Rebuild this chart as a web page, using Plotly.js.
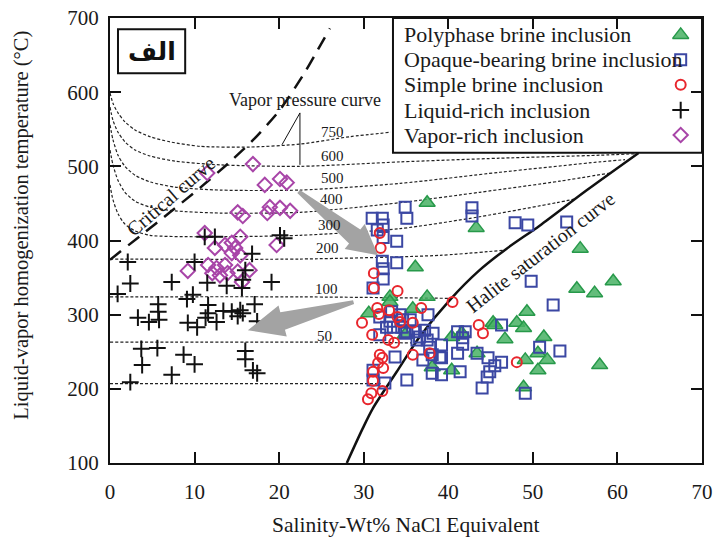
<!DOCTYPE html>
<html>
<head>
<meta charset="utf-8">
<script src="https://cdn.plot.ly/plotly-3.0.1.min.js"></script>
<style>
  html, body { margin: 0; padding: 0; background: #ffffff; }
  #chart { width: 716px; height: 542px; }
</style>
</head>
<body>
<div id="chart"></div>
<script>
// ---- Fluid inclusion measurements: salinity (wt% NaCl eq.) and Th (°C) ----
const polyphaseSal = [37.5, 43.3, 36.1, 33.1, 37.5, 30.6, 33.1, 35.8, 40.4, 41.6, 45.3, 43.4, 38.1, 40.4, 34.9,
  55.6, 55.2, 57.3, 59.5, 49.3, 48.1, 48.9, 45.5, 46.7, 51.3, 49.1, 50.6, 51.7, 50.6, 48.9, 57.9];
const polyphaseTh = [451, 417, 364, 324, 324, 302, 317, 308, 270, 275, 289, 248, 229, 225, 273,
  389, 335, 329, 345, 304, 289, 282, 286, 267, 270, 239, 248, 239, 225, 202, 232];

const opaqueSal = [34.9, 35.1, 31.0, 32.2, 32.3, 32.3, 31.6, 33.9, 32.2, 32.3, 33.9, 32.3, 31.1, 42.8, 42.8,
  47.9, 49.4, 54.0, 49.8, 52.4, 31.9, 33.3, 34.3, 34.6, 35.5, 33.5, 34.5, 32.7, 34.9, 36.1,
  37.2, 37.6, 37.5, 36.3, 37.8, 31.9, 33.7, 38.1, 39.0, 37.0, 38.1, 39.2, 35.1, 32.5, 41.4,
  41.1, 41.7, 41.7, 42.0, 43.4, 44.7, 46.3, 45.5, 44.9, 44.6, 44.0, 46.3, 50.8, 53.2, 49.1,
  39.2, 39.2, 31.1, 31.1, 33.1, 35.1, 36.6, 38.2, 41.1];
const opaqueTh = [445, 430, 430, 430, 421, 404, 414, 399, 372, 362, 370, 348, 336, 444, 433,
  424, 421, 425, 345, 313, 297, 304, 300, 293, 293, 283, 283, 283, 275, 277,
  279, 300, 266, 266, 256, 273, 243, 246, 243, 239, 221, 219, 212, 208, 223,
  248, 269, 260, 277, 248, 242, 236, 231, 223, 216, 201, 286, 256, 251, 194,
  259, 242, 225, 212, 291, 277, 270, 275, 277];

const simpleSal = [31.9, 32.0, 31.2, 31.2, 34.0, 31.6, 31.8, 33.0, 34.0, 34.3, 36.8, 29.8, 35.8, 31.0, 32.9,
  33.6, 35.8, 37.8, 31.9, 32.2, 31.7, 32.3, 31.1, 31.1, 30.9, 30.5, 32.2, 40.5, 43.6, 44.1, 48.1];
const simpleTh = [410, 390, 356, 336, 332, 309, 301, 306, 297, 290, 309, 289, 289, 273, 266,
  262, 246, 248, 246, 242, 235, 228, 223, 211, 194, 186, 197, 317, 286, 275, 236];

const liquidSal = [2.1, 2.4, 0.9, 7.3, 10.0, 11.5, 13.8, 15.6, 19.1, 16.8, 20.1, 20.6, 11.2, 12.4, 16.0,
  15.7, 9.1, 9.8, 5.7, 5.7, 5.8, 3.3, 4.6, 11.6, 11.6, 11.3, 12.6, 13.4, 14.4, 15.4,
  15.7, 15.1, 17.1, 17.4, 9.2, 10.3, 3.7, 5.6, 3.8, 8.7, 10.0, 7.3, 16.0, 16.0, 16.9, 17.4, 2.4];
const liquidTh = [371, 342, 328, 344, 371, 343, 339, 336, 344, 382, 407, 403, 405, 405, 360,
  347, 321, 327, 314, 304, 293, 296, 290, 313, 302, 296, 290, 305, 304, 306,
  302, 298, 314, 291, 289, 283, 254, 255, 232, 246, 233, 219, 251, 240, 225, 221, 209];

const vaporSal = [16.9, 18.3, 20.1, 20.9, 11.5, 15.1, 15.7, 18.9, 18.6, 20.1, 21.3, 11.2, 12.4, 13.6, 14.4,
  14.8, 15.4, 14.4, 15.4, 19.7, 9.2, 11.6, 12.6, 13.6, 12.1, 13.0, 13.9, 15.1, 16.5, 15.6];
const vaporTh = [503, 475, 483, 478, 491, 438, 433, 445, 437, 444, 440, 410, 390, 394, 397,
  390, 405, 383, 380, 394, 359, 367, 363, 367, 356, 353, 356, 358, 360, 344];

// ---- Phase-diagram reference curves ----
const criticalSal = [0, 3.55, 7.09, 10.64, 14.18, 17.14, 20.09, 23.05, 26.0];
const criticalT = [374, 406, 438, 471, 506, 538, 576, 627, 686];

const haliteSal = [28.0, 29.9, 31.1, 33.9, 36.6, 40.2, 43.7, 46.9, 50.8, 56.4, 62.5];
const haliteT = [100, 147, 174, 223, 270, 320, 360, 389, 420, 468, 518];

// Vapor-pressure isobars (bar): salinity / temperature pairs
const isobarLabels = ['750', '600', '500', '400', '300', '200', '100', '50', ''];
const isobarSal = [
  [0, 0.35, 0.95, 1.77, 2.96, 4.73, 7.09, 10.64, 16.55, 22.46, 28.37, 33.2],
  [0, 0.35, 0.95, 1.77, 2.96, 4.73, 7.68, 13.0, 22.5, 34.3, 46.1, 57.9, 62.2],
  [0, 0.35, 0.95, 1.77, 2.96, 4.73, 7.68, 13.0, 22.5, 34.3, 46.1, 57.9, 60.9],
  [0, 0.35, 0.95, 1.77, 2.96, 4.73, 7.68, 13.0, 22.5, 34.3, 43.7, 53.2, 59.1],
  [0, 0.35, 0.95, 1.77, 2.96, 4.73, 10.64, 22.5, 34.3, 43.7, 52.8, 55.0],
  [0, 22.5, 39.0, 46.7],
  [0, 22.5, 40.2],
  [0, 22.5, 35.6],
  [0, 32.0]
];
const isobarT = [
  [599, 585, 572, 560, 549, 540, 533, 527, 526, 530, 540, 546],
  [580, 562, 546, 533, 522, 514, 507, 502, 500, 506, 511, 515, 517],
  [556, 536, 515, 500, 488, 479, 472, 468, 468, 477, 492, 506, 509],
  [522, 502, 481, 465, 453, 445, 440, 437, 438, 451, 465, 480, 491],
  [475, 455, 436, 422, 413, 407, 405, 407, 416, 432, 451, 456],
  [375, 375, 380, 387],
  [324, 324, 322],
  [263, 263, 262],
  [207, 207]
];
const isobarLabelPos = [[26.3, 546], [26.3, 514], [26.3, 484], [26.2, 456], [25.9, 421], [25.7, 390], [25.6, 334], [25.4, 271]];

const legendNames = ['Polyphase brine inclusion', 'Opaque-bearing brine inclusion', 'Simple brine inclusion',
  'Liquid-rich inclusion', 'Vapor-rich inclusion'];

// ---- Styling ----
const SERIF = 'Liberation Serif, Times New Roman, serif';
const INK = '#1a1a1a';
const styles = [
  { symbol: 'triangle-up', size: 14, color: 'rgba(72,178,100,0.85)', line: { color: '#27994a', width: 1.5 } },
  { symbol: 'square-open', size: 11, color: '#3b47a3', line: { color: '#3b47a3', width: 2 } },
  { symbol: 'circle-open', size: 10, color: '#e8262d', line: { color: '#e8262d', width: 2 } },
  { symbol: 'cross-thin-open', size: 12, color: '#111111', line: { color: '#111111', width: 2 } },
  { symbol: 'diamond-open', size: 11, color: '#a845a8', line: { color: '#a845a8', width: 2 } }
];

const plotW = 716 - 110 - 14, plotH = 542 - 18 - 79;
const xRange = [0, 70], yRange = [100, 700];
const sx = plotW / (xRange[1] - xRange[0]), sy = plotH / (yRange[1] - yRange[0]);

// Tapered block arrow built in pixel space, returned as an SVG path in data units
function blockArrow(tail, tip, headLen, headHalf, bodyHalf, tailHalf) {
  const p0 = [tail[0] * sx, tail[1] * sy], p1 = [tip[0] * sx, tip[1] * sy];
  const dx = p1[0] - p0[0], dy = p1[1] - p0[1], L = Math.hypot(dx, dy);
  const ux = dx / L, uy = dy / L, nx = -uy, ny = ux;
  const b = [p1[0] - ux * headLen, p1[1] - uy * headLen];
  const pts = [
    p1,
    [b[0] + nx * headHalf, b[1] + ny * headHalf],
    [b[0] + nx * bodyHalf, b[1] + ny * bodyHalf],
    [p0[0] + nx * tailHalf, p0[1] + ny * tailHalf],
    [p0[0] - nx * tailHalf, p0[1] - ny * tailHalf],
    [b[0] - nx * bodyHalf, b[1] - ny * bodyHalf],
    [b[0] - nx * headHalf, b[1] - ny * headHalf]
  ];
  return 'M' + pts.map(p => (p[0] / sx).toFixed(3) + ',' + (p[1] / sy).toFixed(3)).join(' L') + ' Z';
}

const traces = [];
isobarSal.forEach((xs, i) => {
  traces.push({
    x: xs, y: isobarT[i], mode: 'lines', type: 'scatter', hoverinfo: 'skip', showlegend: false,
    line: { color: '#222222', width: 1.2, dash: '3px,2px', shape: 'spline', smoothing: 0.7 }
  });
});
traces.push({
  x: criticalSal, y: criticalT, mode: 'lines', type: 'scatter', hoverinfo: 'skip', showlegend: false,
  line: { color: '#111111', width: 2.5, dash: '14px,9px', shape: 'spline', smoothing: 0.6 }
});
traces.push({
  x: haliteSal, y: haliteT, mode: 'lines', type: 'scatter', hoverinfo: 'skip', showlegend: false,
  line: { color: '#111111', width: 2.5, shape: 'spline', smoothing: 0.8 }
});

const series = [
  [polyphaseSal, polyphaseTh], [opaqueSal, opaqueTh], [simpleSal, simpleTh], [vaporSal, vaporTh], [liquidSal, liquidTh]
];
const styleIdx = [0, 1, 2, 4, 3];
series.forEach((s, k) => {
  const st = styles[styleIdx[k]];
  traces.push({
    x: s[0], y: s[1], mode: 'markers', type: 'scatter', name: legendNames[styleIdx[k]], showlegend: false,
    marker: { symbol: st.symbol, size: st.size, color: st.color, line: st.line }
  });
});

// legend key symbols on an overlay frame in plot fractions
const legendRowsY = [0.962, 0.906, 0.850, 0.793, 0.737];
styles.forEach((st, i) => {
  traces.push({
    x: [0.964], y: [legendRowsY[i]], xaxis: 'x2', yaxis: 'y2', mode: 'markers', type: 'scatter',
    hoverinfo: 'skip', showlegend: false,
    marker: { symbol: st.symbol, size: st.size, color: st.color, line: st.line }
  });
});

const annotations = [];
isobarLabelPos.forEach((p, i) => {
  annotations.push({ x: p[0], y: p[1], text: isobarLabels[i], showarrow: false,
    font: { family: SERIF, size: 15, color: INK } });
});
annotations.push({ x: 23.0, y: 589, text: 'Vapor pressure curve', showarrow: false,
  font: { family: SERIF, size: 18, color: INK } });
annotations.push({ x: 7.2, y: 460, text: 'Critical curve', showarrow: false, textangle: -41,
  font: { family: SERIF, size: 20, color: INK } });
annotations.push({ x: 50.9, y: 385, text: 'Halite saturation curve', showarrow: false, textangle: -38,
  font: { family: SERIF, size: 20, color: INK } });
legendNames.forEach((n, i) => {
  annotations.push({ xref: 'paper', yref: 'paper', x: 0.494, y: legendRowsY[i], xanchor: 'left', yanchor: 'middle',
    text: n, showarrow: false, font: { family: SERIF, size: 22, color: INK } });
});
annotations.push({ xref: 'paper', yref: 'paper', x: 0.0705, y: 0.925, xanchor: 'center', yanchor: 'middle',
  text: 'الف', showarrow: false,
  font: { family: 'DejaVu Sans, Noto Sans, sans-serif', size: 25, weight: 'bold', color: '#111' } });
annotations.push({ xref: 'paper', yref: 'paper', x: 0.5, y: -0.139, yanchor: 'middle',
  text: 'Salinity-Wt% NaCl Equivalent', showarrow: false, font: { family: SERIF, size: 21.5, color: INK } });
annotations.push({ xref: 'paper', yref: 'paper', x: -0.149, y: 0.535, xanchor: 'center', yanchor: 'middle', textangle: -90,
  text: 'Liquid-vapor homogenization temperature (°C)', showarrow: false, font: { family: SERIF, size: 20.5, color: INK } });

const shapes = [
  { type: 'rect', xref: 'paper', yref: 'paper', x0: 0.478, x1: 1.0, y0: 0.697, y1: 1.0,
    line: { color: '#111', width: 2 }, fillcolor: '#ffffff', layer: 'below' },
  { type: 'rect', xref: 'paper', yref: 'paper', x0: 0.0135, x1: 0.127, y0: 0.876, y1: 0.975,
    line: { color: '#111', width: 2 }, fillcolor: '#ffffff', layer: 'below' },
  { type: 'line', x0: 22.46, y0: 572, x1: 20.33, y1: 529, line: { color: '#111', width: 1 } },
  { type: 'line', x0: 22.46, y0: 572, x1: 22.46, y1: 502, line: { color: '#111', width: 1 } },
  { type: 'path', path: blockArrow([22.3, 466], [31.7, 380], 30, 16, 9, 2), fillcolor: '#a3a3a3', line: { width: 0 } },
  { type: 'path', path: blockArrow([28.8, 317], [16.3, 279], 36, 16, 9, 2), fillcolor: '#a3a3a3', line: { width: 0 } }
];

const axisCommon = {
  showline: true, linecolor: '#111', linewidth: 2, mirror: 'ticks', ticks: 'inside', ticklen: 11,
  tickwidth: 2, tickcolor: '#111', showgrid: false, zeroline: false,
  tickfont: { family: SERIF, size: 21, color: INK }
};

const layout = {
  width: 716, height: 542,
  margin: { l: 110, r: 14, t: 18, b: 79, pad: 0 },
  paper_bgcolor: '#ffffff', plot_bgcolor: '#ffffff',
  showlegend: false,
  xaxis: Object.assign({}, axisCommon, { range: xRange, tickvals: [0, 10, 20, 30, 40, 50, 60, 70], ticklabelstandoff: 9 }),
  yaxis: Object.assign({}, axisCommon, { range: yRange, tickvals: [100, 200, 300, 400, 500, 600, 700], ticklabelstandoff: 5 }),
  xaxis2: { overlaying: 'x', anchor: 'y2', range: [0, 1], visible: false, fixedrange: true },
  yaxis2: { overlaying: 'y', anchor: 'x2', range: [0, 1], visible: false, fixedrange: true },
  annotations: annotations,
  shapes: shapes
};

Plotly.newPlot('chart', traces, layout, { displayModeBar: false, staticPlot: true });
</script>
</body>
</html>
